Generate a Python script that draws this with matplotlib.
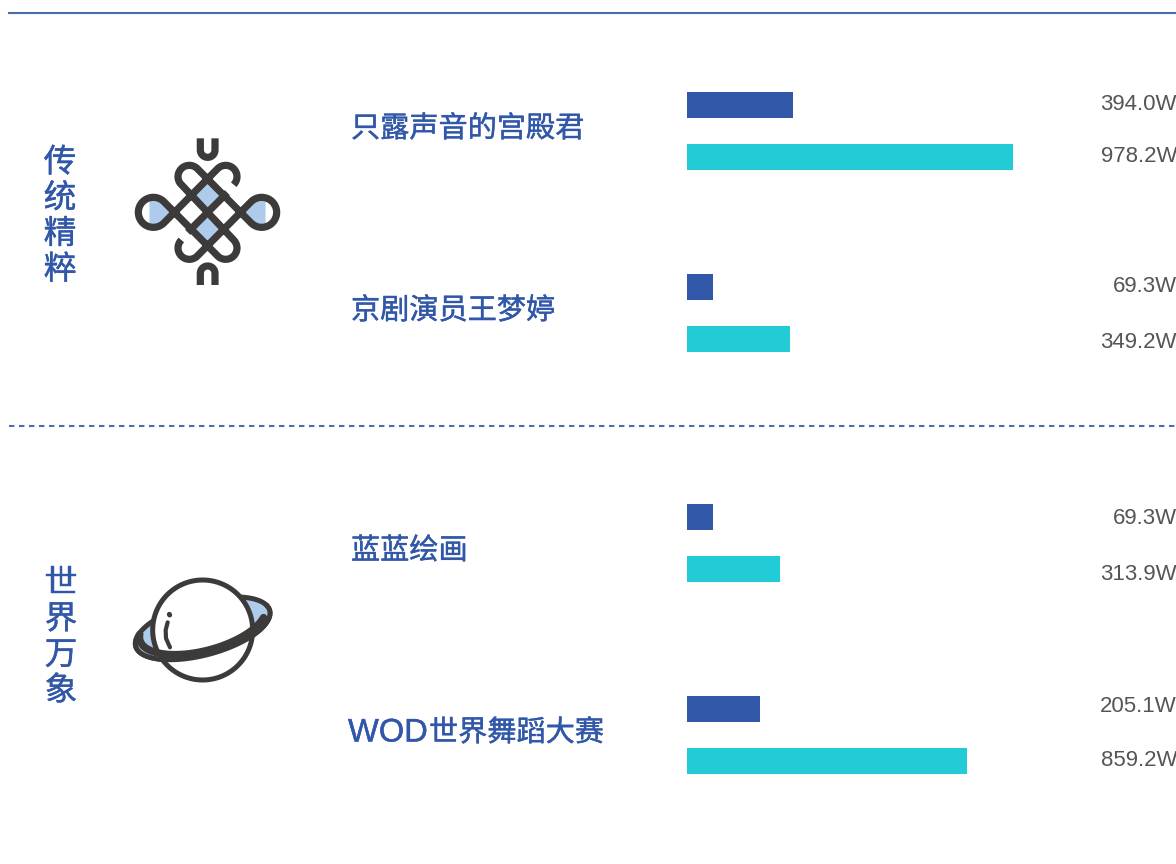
import numpy as np
import matplotlib
matplotlib.use('Agg')
import matplotlib.pyplot as plt
import matplotlib.patheffects as pe

plt.rcParams['font.family'] = ['Noto Sans CJK SC', 'DejaVu Sans']

groups = ['传统精粹', '世界万象']
names = ['只露声音的宫殿君', '京剧演员王梦婷', '蓝蓝绘画', 'WOD世界舞蹈大赛']
values_a = [394.0, 69.3, 69.3, 205.1]
values_b = [978.2, 349.2, 313.9, 859.2]
# bar lengths as drawn in the picture, they are not proportional to the labels
lengths_a = [106, 26, 26, 73]
lengths_b = [326, 103, 93, 280]

BLUE = '#3157a8'
TEAL = '#22ccd6'
DARK = '#3d3a3a'
LIGHT = '#aecbec'
LINE = '#4a6cb0'

row_y = [130.5, 312.5, 543, 734.5]
name_y = [132, 314, 554, 736]
label_a_y = [105, 287, 519, 707]
label_b_y = [157, 343, 574, 761]
group_y = [163, 584]
group_x = [60, 61]
heavy = [pe.withStroke(linewidth=0.3, foreground=BLUE)]


def arc(cx, cy, r, a0, a1, n=40):
    t = np.radians(np.linspace(a0, a1, n))
    return np.column_stack([cx + r * np.cos(t), cy + r * np.sin(t)])


def ring(cx, cy, a, b, rot, a0=0, a1=360, n=120):
    t = np.radians(np.linspace(a0, a1, n))
    r = np.radians(rot)
    x, y = a * np.cos(t), b * np.sin(t)
    return np.column_stack([cx + x * np.cos(r) - y * np.sin(r),
                            cy + x * np.sin(r) + y * np.cos(r)])


def draw_knot(ax):
    # shape measured on a 3x crop, so divide by 3 and shift
    def p(pts):
        pts = np.asarray(pts, dtype=float)
        return pts / 3 + [120, 125]

    ax.fill(*p([(262, 165), (310, 215), (262, 262), (215, 215)]).T, color=LIGHT, lw=0, zorder=3)
    ax.fill(*p([(262, 262), (310, 310), (262, 358), (215, 310)]).T, color=LIGHT, lw=0, zorder=3)
    left = np.vstack([[(166, 262)], arc(100, 262, 45, 45, 105), arc(100, 262, 45, 255, 315)])
    right = np.vstack([[(359, 262)], arc(425, 262, 45, 135, 75), arc(425, 262, 45, -75, -135)])
    ax.fill(*p(left).T, color=LIGHT, lw=0, zorder=3)
    ax.fill(*p(right).T, color=LIGHT, lw=0, zorder=3)

    strand = np.vstack([
        arc(317, 155, 34, 45, -135),
        arc(100, 262, 45, 45, 315),
        arc(317, 369, 34, 135, -45),
        arc(208, 155, 34, 135, 315),
        arc(425, 262, 45, 135, -135),
        arc(208, 369, 34, 45, 225),
    ])
    kw = dict(color=DARK, lw=5.2, zorder=4, solid_capstyle='butt', solid_joinstyle='round')
    ax.plot(*p(strand).T, **kw)
    ax.plot(*p([(322, 203), (203, 322)]).T, **kw)
    top = np.vstack([[(241, 40)], arc(263, 75, 22, 180, 0, 30), [(285, 40)]])
    bottom = np.vstack([[(241, 480)], arc(263, 445, 22, 180, 360, 30), [(285, 480)]])
    ax.plot(*p(top).T, **kw)
    ax.plot(*p(bottom).T, **kw)


def draw_planet(ax):
    def p(pts):
        pts = np.asarray(pts, dtype=float)
        return pts / 3 + [120, 565]

    ax.fill(*p(ring(248, 190, 208, 80, -15)).T, fc=LIGHT, ec=DARK, lw=3.6, zorder=3)
    ax.fill(*p(arc(248, 195, 150, 0, 360, 120)).T, fc='white', ec=DARK, lw=3.6, zorder=4)
    # front of the ring, over the planet
    lower = ring(248, 190, 208, 80, -15, -10, 200)
    band = ring(248, 175, 195, 82, -15, 22, 192)
    ax.fill(*p(np.vstack([lower, band[::-1]])).T, fc=LIGHT, lw=0, zorder=5)
    ax.plot(*p(lower).T, color=DARK, lw=3.6, zorder=6)
    ax.plot(*p(band).T, color=DARK, lw=5.4, zorder=6, solid_capstyle='round')
    ax.plot(*p([(148, 148), (149, 150)]).T, color=DARK, lw=3.6, zorder=6, solid_capstyle='round')
    stem = np.array([(143, 172), (137, 195), (138, 220), (150, 247)])
    ax.plot(*p(stem).T, color=DARK, lw=3.0, zorder=6, solid_capstyle='round')


fig = plt.figure(figsize=(11.76, 8.64), dpi=100)
ax = fig.add_axes([0, 0, 1, 1])
ax.set_xlim(0, 1176)
ax.set_ylim(864, 0)
ax.axis('off')

ax.plot([9, 1176], [13, 13], color=LINE, lw=1.5)
ax.plot([9, 1176], [425.5, 425.5], color=LINE, lw=1.5, dashes=(2.6, 2.2))

for i, g in enumerate(groups):
    for j, ch in enumerate(g):
        ax.text(group_x[i], group_y[i] + j * 35.7, ch, fontsize=23.5, color=BLUE,
                ha='center', va='center', path_effects=heavy)

for i, name in enumerate(names):
    if name.startswith('WOD'):
        ax.text(348, name_y[i] - 3, name[:3], fontsize=23.5, color=BLUE, ha='left', va='center',
                family='Liberation Sans', path_effects=heavy)
        ax.text(429, name_y[i] - 3, name[3:], fontsize=21, color=BLUE, ha='left', va='center',
                path_effects=heavy)
    else:
        ax.text(351, name_y[i] - 3, name, fontsize=21, color=BLUE, ha='left', va='center',
                path_effects=heavy)
    y = row_y[i]
    ax.barh(y - 26, lengths_a[i], height=26, left=687, color=BLUE)
    ax.barh(y + 26, lengths_b[i], height=26, left=687, color=TEAL)
    ax.text(1177, label_a_y[i], f'{values_a[i]:.1f}W', fontsize=16, color='#555555',
            ha='right', va='center', family='Liberation Sans')
    ax.text(1177, label_b_y[i], f'{values_b[i]:.1f}W', fontsize=16, color='#555555',
            ha='right', va='center', family='Liberation Sans')

draw_knot(ax)
draw_planet(ax)

fig.savefig('out.png', dpi=100)
